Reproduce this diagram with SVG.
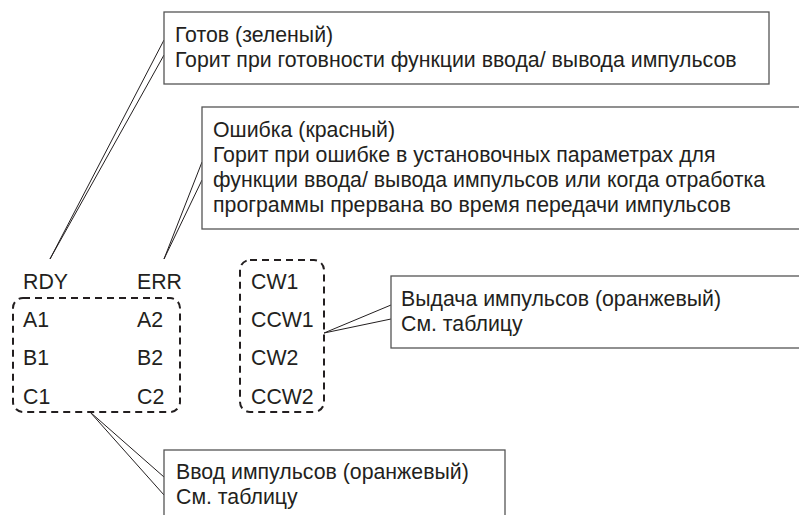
<svg xmlns="http://www.w3.org/2000/svg" width="799" height="515" viewBox="0 0 799 515">
<style>
text{font-family:"Liberation Sans",Arial,sans-serif;font-size:21.3px;fill:#231f20}
.box{fill:#fff;stroke:#555;stroke-width:1.3}
.lead{fill:none;stroke:#231f20;stroke-width:1}
.dash{fill:none;stroke:#231f20;stroke-width:2;stroke-dasharray:7 5}
</style>
<rect width="799" height="515" fill="#fff"/>
<g id="connectors">
<polyline class="lead" points="164,40 50,259 164,55"/>
<polyline class="lead" points="202,162 164,259 202,180"/>
<polyline class="lead" points="391,305 324,333 391,319"/>
<polyline class="lead" points="164,477 90,412 164,495"/>
</g>
<g id="ready-box">
<rect class="box" x="164" y="12" width="605" height="72"/>
<text x="175" y="42">Готов (зеленый)</text>
<text x="175" y="67">Горит при готовности функции ввода/ вывода импульсов</text>
</g>
<g id="error-box">
<rect class="box" x="202" y="107" width="700" height="122"/>
<text x="213" y="137">Ошибка (красный)</text>
<text x="213" y="162">Горит при ошибке в установочных параметрах для</text>
<text x="213" y="187">функции ввода/ вывода импульсов или когда отработка</text>
<text x="213" y="212">программы прервана во время передачи импульсов</text>
</g>
<g id="output-box">
<rect class="box" x="391" y="276" width="500" height="72"/>
<text x="401" y="306">Выдача импульсов (оранжевый)</text>
<text x="401" y="331">См. таблицу</text>
</g>
<g id="input-box">
<rect class="box" x="164" y="450" width="341" height="80"/>
<text x="176" y="479">Ввод импульсов (оранжевый)</text>
<text x="176" y="504">См. таблицу</text>
</g>
<g id="input-group">
<text x="23" y="289">RDY</text>
<text x="137" y="289">ERR</text>
<rect class="dash" x="13" y="298" width="167" height="114" rx="10"/>
<text x="23" y="327">A1</text>
<text x="137" y="327">A2</text>
<text x="23" y="365">B1</text>
<text x="137" y="365">B2</text>
<text x="23" y="404">C1</text>
<text x="137" y="404">C2</text>
</g>
<g id="output-group">
<rect class="dash" x="240" y="260" width="84" height="152" rx="10"/>
<text x="251" y="289">CW1</text>
<text x="251" y="327">CCW1</text>
<text x="251" y="365">CW2</text>
<text x="251" y="404">CCW2</text>
</g>
</svg>
